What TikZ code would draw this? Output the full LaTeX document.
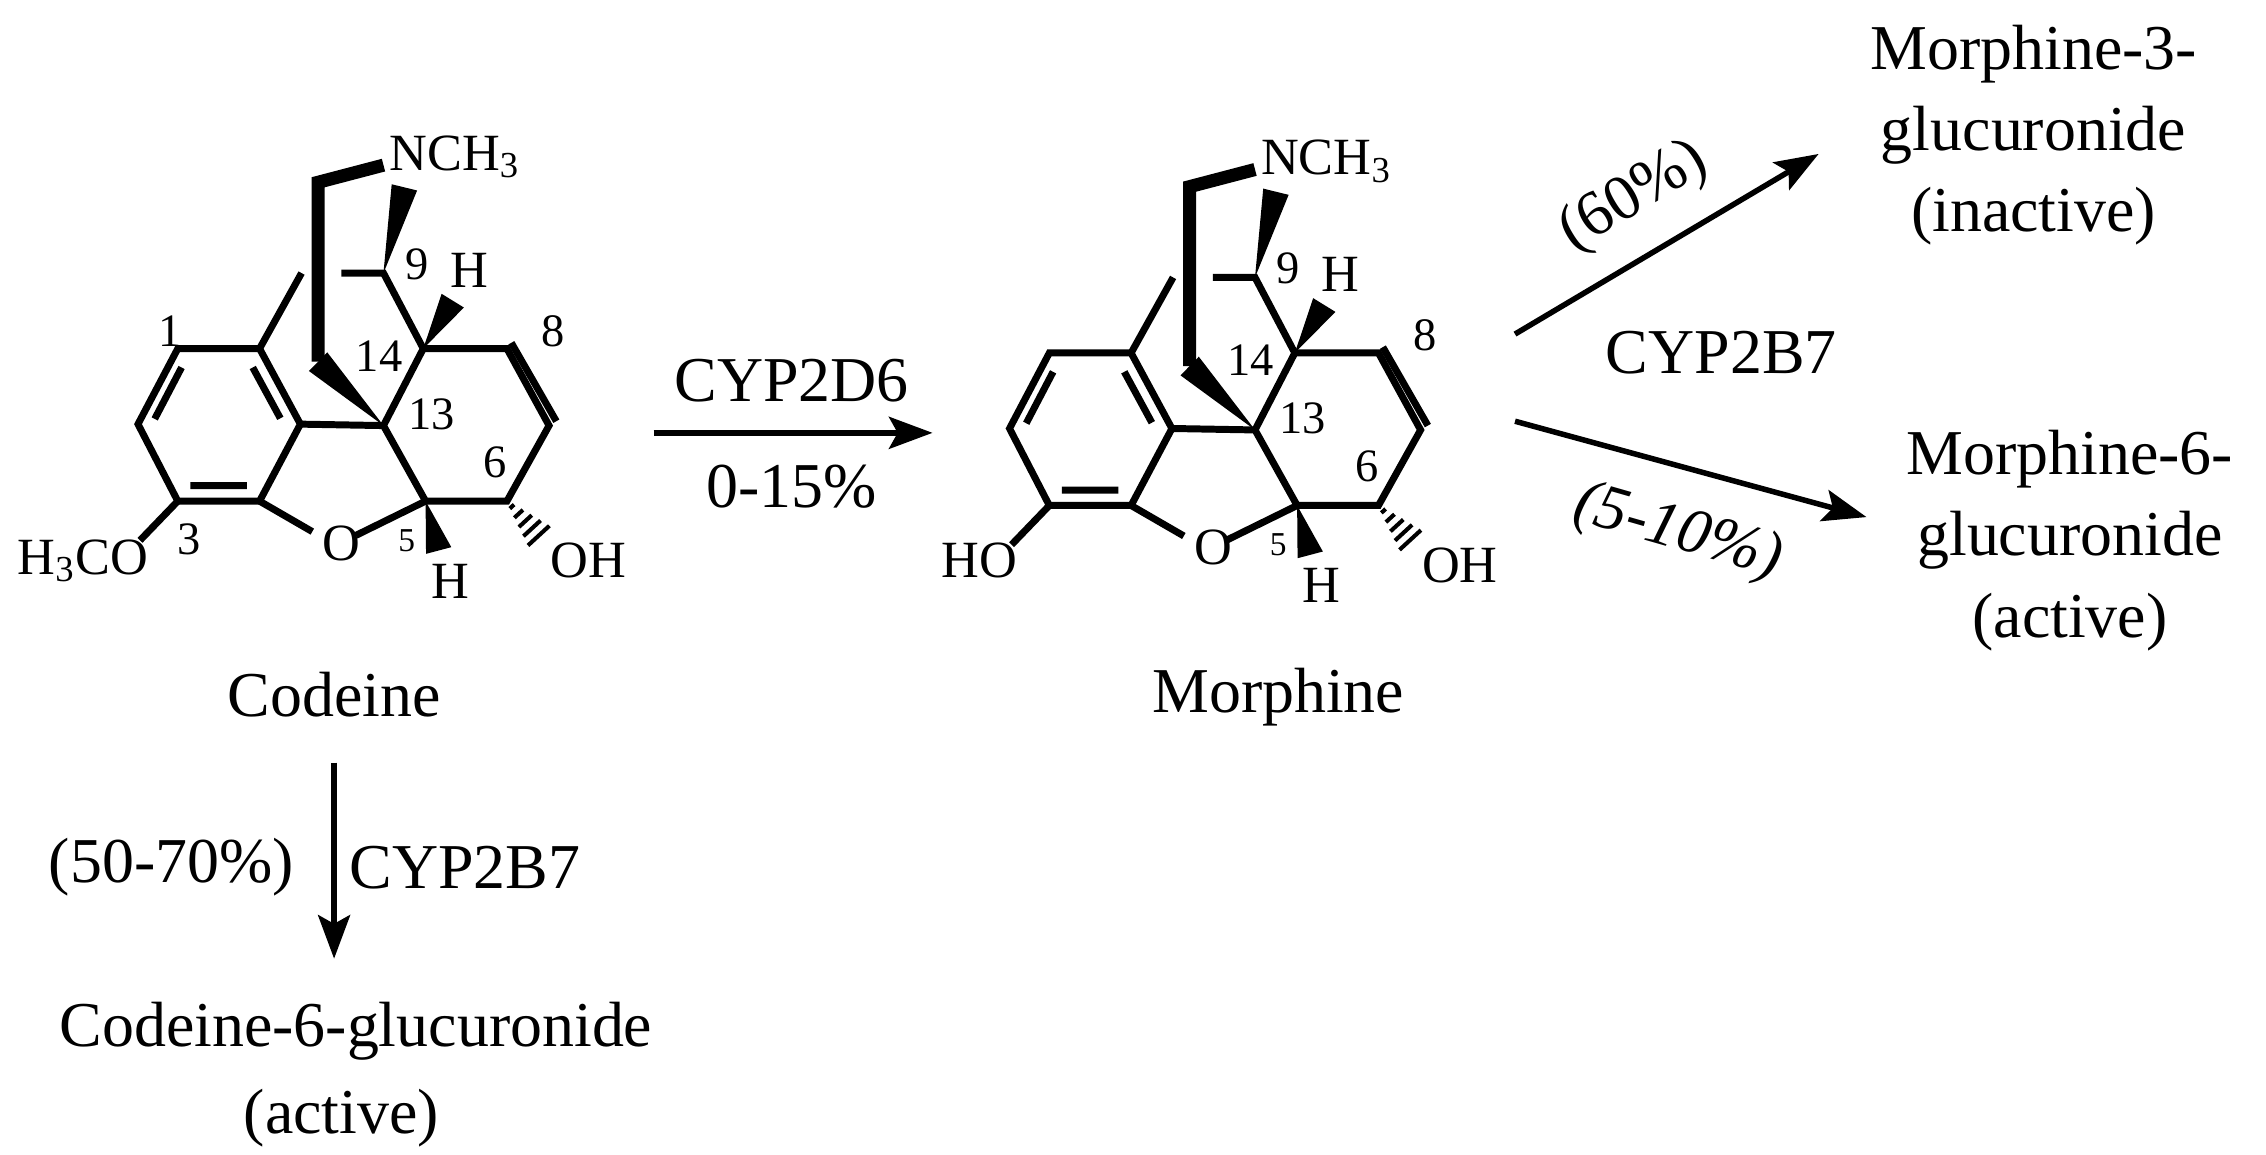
\documentclass[tikz,border=0pt]{standalone}
\usepackage{fontspec}
\setmainfont{Liberation Serif}
\usetikzlibrary{calc,arrows.meta}
\newcommand\wdg[3]{\fill (#1) -- ($(#2)!#3!90:(#1)$) -- ($(#2)!#3!-90:(#1)$) -- cycle;}
\newcommand\hsh[2]{\foreach \t/\w in {0.15/1pt,0.35/2pt,0.55/3pt,0.75/4pt,0.95/5pt}{%
  \coordinate (hp) at ($(#1)!\t!(#2)$);
  \draw[line width=1.4pt] ($(hp)!\w!90:(#2)$) -- ($(hp)!\w!-90:(#2)$);}}
\newcommand\mol{%
  \coordinate (C1) at (122.4,240); \coordinate (C4a) at (178.7,240);
  \coordinate (C2) at (95,292); \coordinate (C12) at (206.8,292);
  \coordinate (C3) at (122.4,345); \coordinate (C4) at (178.7,345);
  \coordinate (C13) at (264,293); \coordinate (C5) at (293,345);
  \coordinate (C6) at (349,345); \coordinate (C7) at (378,293);
  \coordinate (C8) at (349,240); \coordinate (C14) at (291.4,240);
  \coordinate (C9) at (264,188); \coordinate (OL) at (215,366);
  \coordinate (OR) at (245,368.6); \coordinate (S9) at (235,188);
  \coordinate (S10) at (207.6,188); \coordinate (OMe) at (96.4,372);
  \coordinate (B1) at (219,249); \coordinate (B2) at (219,125.5);
  \coordinate (B3) at (264,113.7); \coordinate (NW) at (278.4,129);
  \coordinate (HW) at (311.7,207); \coordinate (H5W) at (302,379);
  \coordinate (OHW) at (372,370);
  \draw[bond] (C2)--(C1)--(C4a)--(C12)--(C4)--(C3)--cycle;
  \draw[bond] (106.5,288.4)--(125,253) (174,253)--(193,288) (131,334.4)--(170,334.4);
  \draw[bond] (C12)--(C13)--(C5)--(C6)--(C7)--(C8)--(C14)--(C13);
  \draw[bond] (352,236)--(383,290);
  \draw[bond] (C4)--(OL) (OR)--(C5) (C14)--(C9)--(S9) (C4a)--(S10) (C3)--(OMe);
  \wdg{C13}{B1}{4.5pt}
  \draw[line width=4.5pt,line join=miter] (B1)--(B2)--(B3);
  \wdg{C9}{NW}{4.5pt}
  \wdg{C14}{HW}{4.5pt}
  \wdg{C5}{H5W}{4.5pt}
  \hsh{C6}{OHW}
  \node[chem] (nO) at (235,374) {O};
  \node[chem] (nN) at (313,108) {NCH\textsubscript{3}};
  \node[chem] (nH1) at (323,186) {H};
  \node[chem] (nH2) at (310,400) {H};
  \node[chem] (nOH) at (405,386) {OH};
  \node[num] (n9) at (287,182) {9};
  \node[num] (n14) at (261,245) {14};
  \node[num] (n13) at (297,285) {13};
  \node[num] (n8) at (381,228) {8};
  \node[num] (n6) at (341,318) {6};
  \node[num,font=\fontsize{11.5}{11.5}\selectfont] (n5) at (280,372) {5};
}
\begin{document}
\begin{tikzpicture}[x=0.5pt,y=-0.5pt,
  bond/.style={line width=2.4pt,line cap=butt},
  chem/.style={font=\fontsize{18}{18}\selectfont,inner sep=0pt},
  num/.style={font=\fontsize{16}{16}\selectfont,inner sep=0pt},
  lbl/.style={font=\fontsize{22}{22}\selectfont,inner sep=0pt},
  arr/.style={line width=1.9pt,-{Stealth[length=15pt,width=11pt,inset=3pt]}}]
\useasboundingbox (0,0) rectangle (1560,795);
\begin{scope}
  \mol
  \node[chem] (meo) at (57,386) {H\textsubscript{3}CO};
  \node[num] (n3) at (130,371) {3};
  \node[num] (n1) at (117,228) {1};
\end{scope}
\begin{scope}[shift={(600,3)}]
  \mol
  \node[chem] (ho) at (74,383) {HO};
\end{scope}
\node[lbl] (cod) at (230,478) {Codeine};
\node[lbl] (mor) at (880,480) {Morphine};
\coordinate (a1s) at (450,298); \coordinate (a1e) at (642,298);
\draw[arr] (a1s) -- (a1e);
\node[lbl] (cyp1) at (545,262) {CYP2D6};
\node[lbl] (pc1) at (545,335) {0-15\%};
\coordinate (a2s) at (1043,230); \coordinate (a2e) at (1252,106);
\draw[arr] (a2s) -- (a2e);
\node[lbl,rotate=31] (p60) at (1125,136) {(60\%)};
\node[lbl] (cyp2) at (1185,243) {CYP2B7};
\coordinate (a3s) at (1043,290); \coordinate (a3e) at (1285,356);
\draw[arr] (a3s) -- (a3e);
\node[lbl,rotate=-16,font=\fontsize{22}{22}\selectfont\itshape] (p510) at (1155,367) {(5-10\%)};
\node[lbl,align=center] (m3g) at (1400,93) {Morphine-3-\\[6pt]glucuronide\\[6pt](inactive)};
\node[lbl,align=center] (m6g) at (1425,372) {Morphine-6-\\[6pt]glucuronide\\[6pt](active)};
\coordinate (a4s) at (230,525); \coordinate (a4e) at (230,660);
\draw[arr] (a4s) -- (a4e);
\node[lbl] (p570) at (118,597) {(50-70\%)};
\node[lbl] (cyp3) at (320,597) {CYP2B7};
\node[lbl] (c6g) at (245,710) {Codeine-6-glucuronide};
\node[lbl] (act) at (235,770) {(active)};
\end{tikzpicture}
\end{document}
